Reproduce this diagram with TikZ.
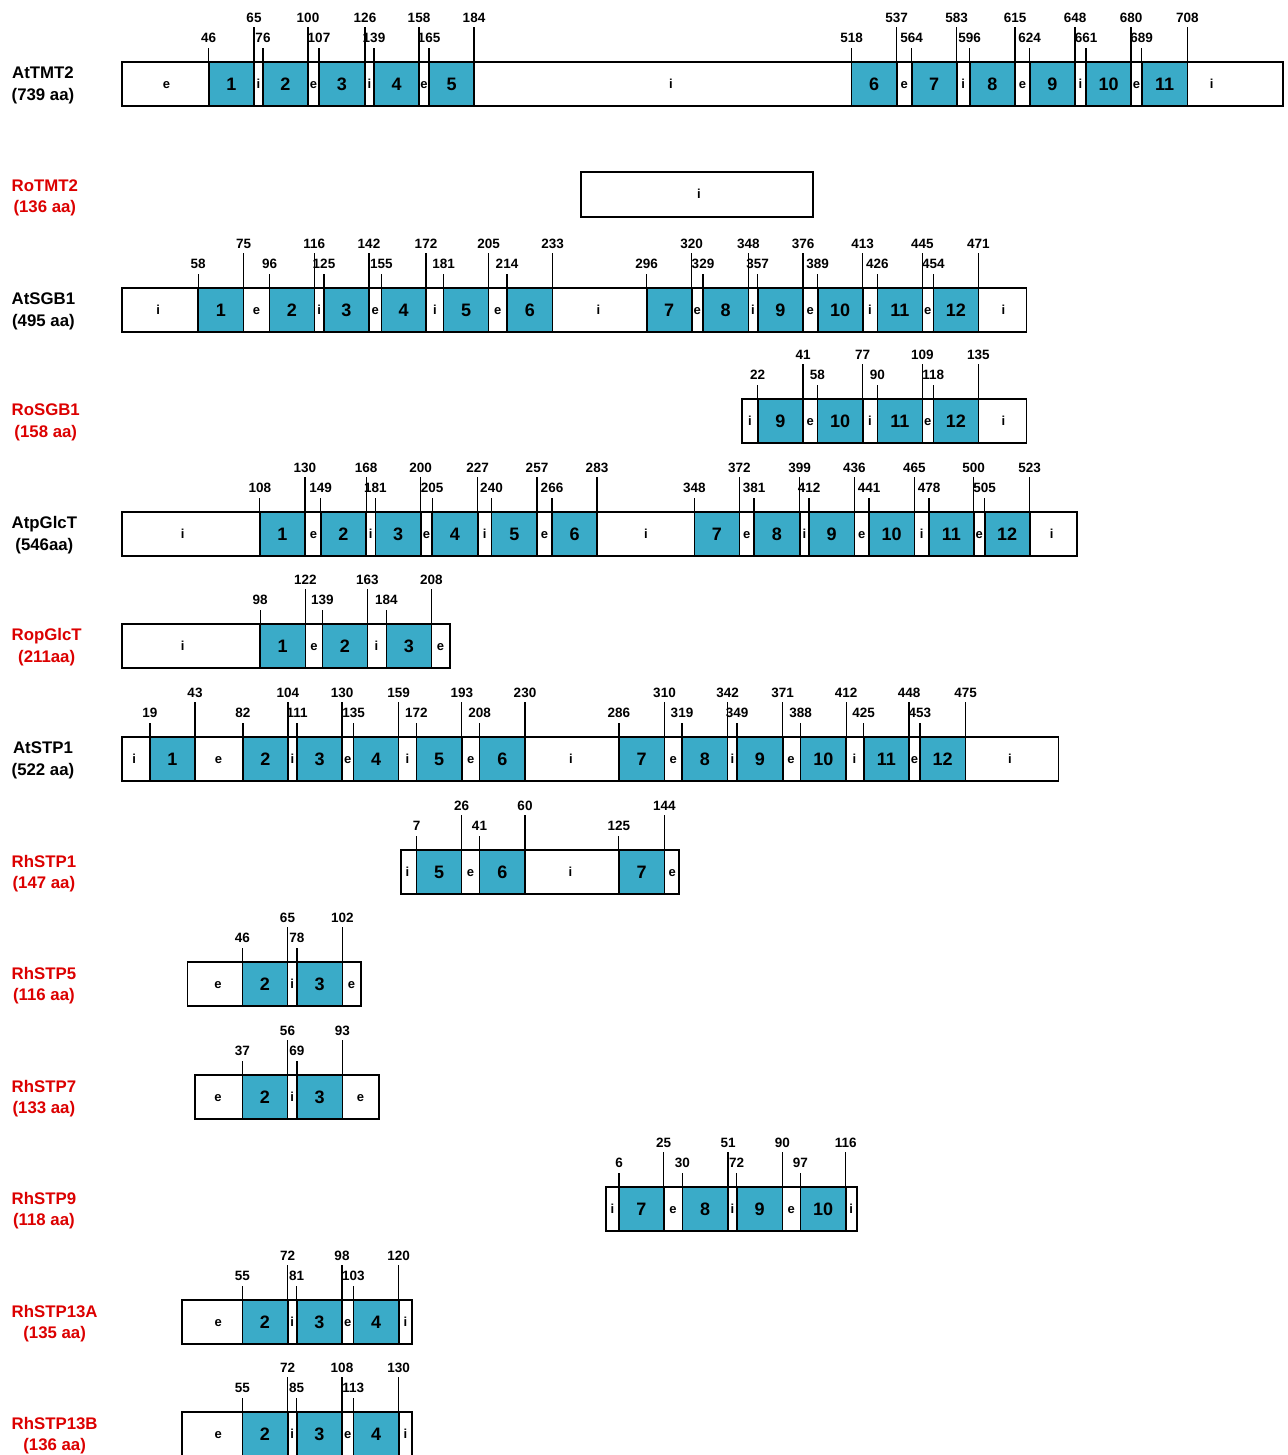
\documentclass[tikz,border=0pt]{standalone}
\usepackage{fontspec}
\setmainfont{Liberation Sans}
\definecolor{helixblue}{RGB}{58,171,200}
\definecolor{namered}{RGB}{220,0,0}
\tikzset{
  outerbox/.style={draw=black, line width=1.8pt, fill=white, inner sep=0pt, outer sep=0pt},
  helixbox/.style={draw=black, line width=1.6pt, fill=helixblue, inner sep=0pt, outer sep=0pt, font=\fontsize{18}{20}\selectfont\bfseries},
  tickline/.style={line width=1.3pt, draw=black},
  ticknum/.style={inner sep=0pt, font=\fontsize{13.5}{15}\selectfont\bfseries},
  gaplab/.style={inner sep=0pt, anchor=base, font=\fontsize{13}{15}\selectfont\bfseries},
  protname/.style={inner sep=0pt, anchor=west, align=center, font=\fontsize{16.8}{21.7}\selectfont\bfseries},
}
% #1 id, #2 top, #3 left, #4 right, #5 helices, #6 gap labels, #7 name, #8 colour
\newcommand\protrow[8]{%
  \node[outerbox, minimum width={(#4-#3)*1pt}, minimum height=44pt, anchor=north west] (#1) at (#3,#2) {};
  \foreach \hl/\hr/\hn/\ha/\hb in {#5} {
    \node[helixbox, minimum width={(\hr-\hl)*1pt}, minimum height=44pt, anchor=north west] (#1-\hn) at (\hl,#2) {\hn};
    \draw[tickline] (#1-\hn.north west) -- ++(0,-14);
    \draw[tickline] (#1-\hn.north east) -- ++(0,-35);
    \node[ticknum] (#1-\hn-a) at (\hl,#2-24) {\ha};
    \node[ticknum] (#1-\hn-b) at (\hr,#2-44) {\hb};
  }
  \foreach \gx/\gt [count=\gi] in {#6} {
    \node[gaplab] (#1-g\gi) at (\gx,#2+26.5) {\gt};
  }
  \node[protname, text=#8] (#1-name) at (11.5,#2+23.5) {#7};
}
\begin{document}
\begin{tikzpicture}[x=1pt, y=-1pt]
\useasboundingbox (0,0) rectangle (1287,1455);
\fill[white] (0,0) rectangle (1287,1455);

\protrow{tmt}{62}{122}{1283}{208.7/254/1/46/65, 263/308/2/76/100, 319/365/3/107/126, 374/419/4/139/158, 429/474/5/165/184, 851.5/896.7/6/518/537, 911.7/956.7/7/564/583, 969.7/1015/8/596/615, 1029.7/1075/9/624/648, 1086/1131/10/661/680, 1141.7/1187.3/11/689/708}{166.5/e, 258.5/i, 313.5/e, 369.5/i, 424/e, 671/i, 904.2/e, 963.2/i, 1022.4/e, 1080.5/i, 1136.4/e, 1211.7/i}{AtTMT2\\(739 aa)}{black}

% RoTMT2
\node[outerbox, minimum width=232pt, minimum height=45pt, anchor=north west] (rtmt) at (581,172) {};
\node[gaplab] (rtmt-g1) at (699,172+26.5) {i};
\node[protname, text=namered] (rtmt-name) at (11.5,172+26) {RoTMT2\\(136 aa)};

\protrow{sgb}{288}{122}{1026.5}{198.2/243.6/1/58/75, 269.6/314.3/2/96/116, 324/369/3/125/142, 381.4/426/4/155/172, 443.6/488.6/5/181/205, 507/552.6/6/214/233, 646.7/691.7/7/296/320, 703/748.3/8/329/348, 757.7/803/9/357/376, 817.7/862.7/10/389/413, 877.3/922.3/11/426/445, 933.3/978.3/12/454/471}{158.2/i, 256.6/e, 319.1/i, 375.2/e, 434.8/i, 497.8/e, 598.3/i, 697.3/e, 753/i, 810.3/e, 869.9/i, 927.8/e, 1003.3/i}{AtSGB1\\(495 aa)}{black}

\protrow{rsgb}{399}{742}{1026.5}{757.7/803/9/22/41, 817.3/862.7/10/58/77, 877.3/922.3/11/90/109, 933.3/978.3/12/118/135}{750/i, 810.2/e, 869.9/i, 927.8/e, 1003.3/i}{RoSGB1\\(158 aa)}{namered}

\protrow{apg}{512}{122}{1076.7}{259.8/304.9/1/108/130, 320.7/366.2/2/149/168, 375.3/420.7/3/181/200, 432.2/477.7/4/205/227, 491.5/537/5/240/257, 552/597/6/266/283, 694.3/739.3/7/348/372, 754/799.7/8/381/399, 809/854.3/9/412/436, 869/914.3/10/441/465, 929/973.7/11/478/500, 984.7/1029.7/12/505/523}{182.7/i, 313.5/e, 370.8/i, 426.5/e, 484.6/i, 544.5/e, 646/i, 746.7/e, 804.4/i, 861.7/e, 921.7/i, 979.2/e, 1051.7/i}{AtpGlcT\\(546aa)}{black}

\protrow{rpg}{624}{122}{449.6}{260.2/305.3/1/98/122, 322.3/367.3/2/139/163, 386.3/431.4/3/184/208}{182.7/i, 314/e, 376.5/i, 440.5/e}{RopGlcT\\(211aa)}{namered}

\protrow{stp}{737}{122}{1058.4}{150/195/1/19/43, 242.9/287.9/2/82/104, 297.1/342.1/3/111/130, 353.6/398.6/4/135/159, 416.4/461.8/5/172/193, 479.6/525/6/208/230, 618.9/664.5/7/286/310, 682/727.6/8/319/342, 737.1/782.7/9/349/371, 800.6/846.2/10/388/412, 863.7/909/11/425/448, 919.9/965.5/12/453/475}{134.3/i, 218.6/e, 292.5/i, 347.8/e, 407.5/i, 470.7/e, 570.9/i, 673.3/e, 732.4/i, 791.1/e, 854.3/i, 914.4/e, 1010/i}{AtSTP1\\(522 aa)}{black}

\protrow{rone}{850}{401.3}{679}{416.5/461.6/5/7/26, 479.5/525/6/41/60, 618.8/664.3/7/125/144}{407.5/i, 470.5/e, 570.5/i, 672.3/e}{RhSTP1\\(147 aa)}{namered}

\protrow{rfive}{962}{187.5}{360.7}{242.4/287.5/2/46/65, 296.9/342.4/3/78/102}{218/e, 292.2/i, 351.5/e}{RhSTP5\\(116 aa)}{namered}

\protrow{rseven}{1075}{195}{378.6}{242.4/287.5/2/37/56, 296.9/342.4/3/69/93}{218/e, 292.2/i, 360.5/e}{RhSTP7\\(133 aa)}{namered}

\protrow{rnine}{1187}{605.7}{856.7}{619/663.7/7/6/25, 682.3/728/8/30/51, 736.7/782.3/9/72/90, 800.3/845.7/10/97/116}{612.3/i, 673/e, 732.4/i, 791.3/e, 851.2/i}{RhSTP9\\(118 aa)}{namered}

\protrow{rta}{1300}{182.3}{412.3}{242.3/287.7/2/55/72, 296.7/342/3/81/98, 353.3/398.7/4/103/120}{218.3/e, 292.2/i, 347.7/e, 405.5/i}{RhSTP13A\\(135 aa)}{namered}

\protrow{rtb}{1412}{182.3}{412.3}{242.3/287.7/2/55/72, 296.7/342/3/85/108, 353.3/398.7/4/113/130}{218.3/e, 292.2/i, 347.7/e, 405.5/i}{RhSTP13B\\(136 aa)}{namered}
\end{tikzpicture}
\end{document}
